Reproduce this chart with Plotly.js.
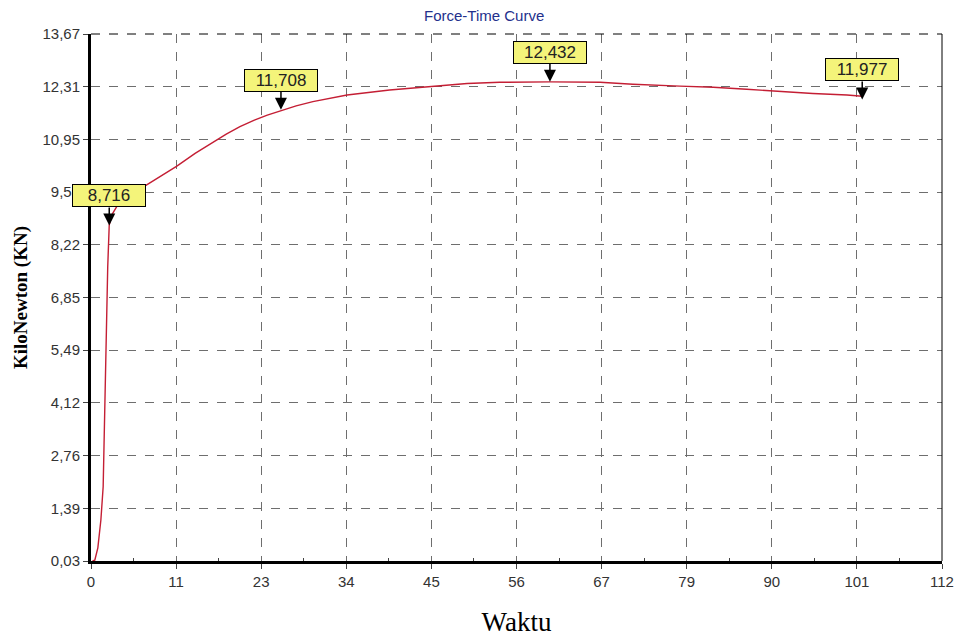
<!DOCTYPE html>
<html>
<head>
<meta charset="utf-8">
<script src="https://cdn.plot.ly/plotly-3.0.1.min.js"></script>
<style>html,body{margin:0;padding:0;background:#fff;}#chart{width:963px;height:642px;}</style>
</head>
<body>
<div id="chart"></div>
<script>
// Time (x) and force in kN (y)
const timeValues  = [0.2, 0.5, 0.9, 1.3, 1.6, 1.9, 2.2, 2.4, 2.8, 3.5, 5.1, 6.8, 9.0, 11.3, 13.7, 16.1, 17.8, 19.6, 21.5, 23.2, 25.0, 27.0, 29.2, 33.7, 39.3, 45.0, 49.5, 53.8, 60.4, 67.0, 71.3, 77.5, 81.9, 86.3, 90.7, 95.0, 99.5, 101.5];
const forceValues = [0.03, 0.05, 0.37, 1.09, 1.95, 4.97, 7.64, 8.73, 9.01, 9.24, 9.48, 9.70, 9.98, 10.25, 10.58, 10.88, 11.08, 11.27, 11.44, 11.57, 11.69, 11.81, 11.92, 12.09, 12.22, 12.32, 12.39, 12.42, 12.43, 12.42, 12.37, 12.32, 12.29, 12.24, 12.18, 12.13, 12.09, 12.06];

// Marked points
const markTime  = [2.4, 25.0, 60.4, 101.5];
const markForce = [8.716, 11.708, 12.432, 11.977];
const markText  = ["8,716", "11,708", "12,432", "11,977"];

// Axis ticks
const xTickVals = [0, 11.2, 22.4, 33.6, 44.8, 56, 67.2, 78.4, 89.6, 100.8, 112];
const xTickText = ["0", "11", "23", "34", "45", "56", "67", "79", "90", "101", "112"];
const yTickVals = [0.03, 1.394, 2.758, 4.122, 5.486, 6.85, 8.214, 9.578, 10.942, 12.306, 13.67];
const yTickText = ["0,03", "1,39", "2,76", "4,12", "5,49", "6,85", "8,22", "9,58", "10,95", "12,31", "13,67"];
const xMinorVals = xTickVals.slice(0, -1).map((v, i) => (v + xTickVals[i + 1]) / 2);

const trace = {
  x: timeValues, y: forceValues, type: 'scatter', mode: 'lines',
  line: {color: '#c41e34', width: 1.4}, hoverinfo: 'x+y'
};

const annotations = markTime.map((t, i) => ({
  x: t, y: markForce[i], xref: 'x', yref: 'y',
  text: markText[i], showarrow: true,
  ax: 0, ay: -18, yanchor: 'bottom', xanchor: 'center',
  arrowhead: 2, arrowsize: 1.6, arrowwidth: 1.5, arrowcolor: '#000',
  bgcolor: '#f4f47a', bordercolor: '#000', borderwidth: 1, borderpad: 1,
  width: 70, height: 19,
  font: {family: 'Liberation Sans, Arial, sans-serif', size: 17, color: '#222'}
}));

annotations.push({
  xref: 'paper', yref: 'paper', x: 0.462, y: 1, yanchor: 'bottom', yshift: 8,
  showarrow: false, text: 'Force-Time Curve',
  font: {family: 'Liberation Sans, Arial, sans-serif', size: 15, color: '#23308c'}
});

const layout = {
  width: 963, height: 642,
  margin: {l: 91, r: 21, t: 34, b: 81},
  paper_bgcolor: '#fff', plot_bgcolor: '#fff',
  showlegend: false,
  xaxis: {
    range: [0, 112], tickmode: 'array', tickvals: xTickVals, ticktext: xTickText,
    showgrid: true, gridcolor: '#6e6e6e', griddash: 'dash', gridwidth: 1,
    zeroline: false, showline: true, linecolor: '#000', linewidth: 3,
    ticks: 'outside', ticklen: 5, tickcolor: '#444',
    minor: {tickmode: 'array', tickvals: xMinorVals, ticks: 'inside', ticklen: 3, tickcolor: '#444', showgrid: false},
    tickfont: {family: 'Liberation Sans, Arial, sans-serif', size: 15, color: '#333'},
    title: {text: 'Waktu', standoff: 24, font: {family: 'Liberation Serif, Times New Roman, serif', size: 27, color: '#000'}}
  },
  yaxis: {
    range: [0.03, 13.67], tickmode: 'array', tickvals: yTickVals, ticktext: yTickText,
    showgrid: true, gridcolor: '#6e6e6e', griddash: 'dash', gridwidth: 1,
    zeroline: false, showline: true, linecolor: '#000', linewidth: 3,
    ticks: 'outside', ticklen: 5, tickcolor: '#444',
    tickfont: {family: 'Liberation Sans, Arial, sans-serif', size: 15, color: '#333'},
    title: {text: 'KiloNewton (KN)', standoff: 10, font: {family: 'Liberation Serif, Times New Roman, serif', size: 19, color: '#000', weight: 'bold'}}
  },
  shapes: [
    {type: 'line', xref: 'paper', yref: 'paper', x0: 0, x1: 1, y0: 1, y1: 1, line: {color: '#000', width: 1, dash: 'dash'}},
    {type: 'line', xref: 'paper', yref: 'paper', x0: 1, x1: 1, y0: 0, y1: 1, line: {color: '#000', width: 1}}
  ],
  annotations: annotations
};

Plotly.newPlot('chart', [trace], layout, {displayModeBar: false, staticPlot: true});
</script>
</body>
</html>
